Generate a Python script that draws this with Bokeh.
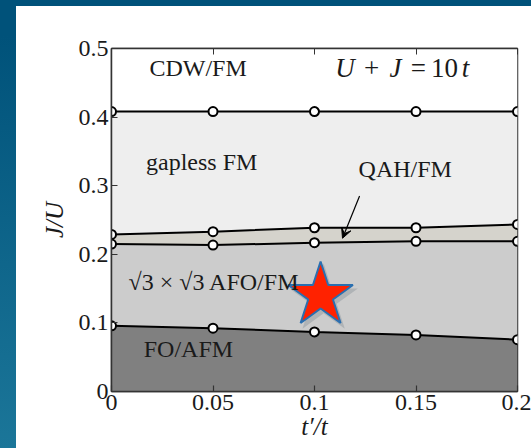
from bokeh.plotting import figure
from bokeh.models import (Range1d, FixedTicker, LinearAxis, Label, Arrow, VeeHead,
                          CustomJSTickFormatter, ColumnDataSource)
from bokeh.transform import dodge
from bokeh.embed import file_html
from bokeh.resources import INLINE

# ---- data ----
t_ratio = [0.0, 0.05, 0.1, 0.15, 0.2]
cdw_boundary = [0.408, 0.408, 0.408, 0.408, 0.408]
qah_upper = [0.229, 0.233, 0.2387, 0.2387, 0.2435]
qah_lower = [0.2149, 0.2134, 0.2169, 0.219, 0.219]
fo_boundary = [0.0958, 0.0923, 0.0869, 0.0825, 0.0755]
y_top = [0.5, 0.5, 0.5, 0.5, 0.5]
y_bottom = [0.0, 0.0, 0.0, 0.0, 0.0]
star_x = [0.103]
star_y = [0.14]
x_ticks = [0, 0.05, 0.1, 0.15, 0.2]
x_tick_labels = ["0", "0.05", "0.1", "0.15", "0.2"]
y_ticks = [0, 0.1, 0.2, 0.3, 0.4, 0.5]
y_tick_labels = ["0", "0.1", "0.2", "0.3", "0.4", "0.5"]
region_names = ["CDW/FM", "gapless FM", "QAH/FM", "√3 × √3 AFO/FM", "FO/AFM"]
equation_parts = ["U", "+", "J", "=", "10", "t"]

FONT = "Liberation Serif"
TXT = "#1a1a1a"

p = figure(width=531, height=448, output_backend="svg", toolbar_location=None,
           x_range=Range1d(0, 0.2), y_range=Range1d(0, 0.5),
           min_border_left=111, min_border_right=14, min_border_top=48, min_border_bottom=57)
p.border_fill_color = None
p.background_fill_color = "white"
p.outline_line_color = "#333333"
p.outline_line_width = 1.5
p.styles = {"background": "linear-gradient(#ffffff,#ffffff) 16px 6px / 515px 442px no-repeat, "
                          "linear-gradient(180deg, #00527a 0%, #00527a 8%, #1b7699 100%)"}
p.grid.visible = False

# regions
p.varea(x=t_ratio, y1=cdw_boundary, y2=y_top, fill_color="white")
p.varea(x=t_ratio, y1=qah_upper, y2=cdw_boundary, fill_color="#eeeeee")
p.varea(x=t_ratio, y1=qah_lower, y2=qah_upper, fill_color="#d5d3cc")
p.varea(x=t_ratio, y1=fo_boundary, y2=qah_lower, fill_color="#cccccc")
p.varea(x=t_ratio, y1=y_bottom, y2=fo_boundary, fill_color="#808080")

for b in [cdw_boundary, qah_upper, qah_lower, fo_boundary]:
    p.line(t_ratio, b, line_color="black", line_width=2)
    p.scatter(t_ratio, b, size=9, fill_color="white", line_color="black", line_width=2)

# star
star_src = ColumnDataSource(dict(x=star_x, y=star_y))
p.scatter(x=dodge("x", 0.0015), y=dodge("y", -0.006), source=star_src, marker="star", size=72,
          fill_color="#4a5a6a", fill_alpha=0.22, line_color=None)
p.scatter(x="x", y="y", source=star_src, marker="star", size=68, fill_color="#ff2200",
          line_color="#2a6fb0", line_width=2)

def fmt(labels, ticks):
    d = {str(float(t)): l for t, l in zip(ticks, labels)}
    return CustomJSTickFormatter(args=dict(d=d), code="""
        for (const key in d) { if (Math.abs(Number(key) - tick) < 1e-9) return d[key]; }
        return String(tick);""")

xa = p.xaxis[0]
ya = p.yaxis[0]
xa.ticker = FixedTicker(ticks=x_ticks)
ya.ticker = FixedTicker(ticks=y_ticks)
xa.formatter = fmt(x_tick_labels, x_ticks)
ya.formatter = fmt(y_tick_labels, y_ticks)
for ax in (xa, ya):
    ax.major_tick_in = 6
    ax.major_tick_out = 0
    ax.minor_tick_in = 0
    ax.minor_tick_out = 0
    ax.axis_line_color = "#333333"
    ax.axis_line_width = 1.5
    ax.major_tick_line_color = "#333333"
    ax.major_tick_line_width = 1.2
    ax.major_label_text_font = FONT
    ax.major_label_text_font_size = "24px"
    ax.major_label_text_color = TXT
    ax.axis_label_text_font = FONT
    ax.axis_label_text_font_size = "25px"
    ax.axis_label_text_font_style = "italic"
    ax.axis_label_text_color = TXT
xa.major_label_standoff = 3
ya.major_label_standoff = 3
xa.axis_label = "t′/t"
ya.axis_label = "J/U"
xa.axis_label_standoff = 0
ya.axis_label_standoff = 8

top = LinearAxis(ticker=FixedTicker(ticks=x_ticks), major_label_text_color=None,
                 major_label_text_alpha=0,
                 major_tick_in=6, major_tick_out=0, minor_tick_in=0, minor_tick_out=0,
                 axis_line_color="#333333", axis_line_width=1.5, major_tick_line_color="#333333")
p.add_layout(top, "above")

# region labels
pos = [(0.0187, 0.4715), (0.017, 0.334), (0.1217, 0.3247), (0.0084, 0.1596), (0.0159, 0.0623)]
for name, (lx, ly) in zip(region_names, pos):
    p.add_layout(Label(x=lx, y=ly, text=name, text_font=FONT, text_font_size="24px",
                       text_color=TXT, text_baseline="middle", text_align="left"))

# equation "U + J = 10t", math italic letters and upright symbols
eq_x = [0.1150, 0.1281, 0.1399, 0.1512, 0.1640, 0.1744]
eq_style = ["italic", "normal", "italic", "normal", "normal", "italic"]
for part, ex, st in zip(equation_parts, eq_x, eq_style):
    p.add_layout(Label(x=ex, y=0.4715, text=part, text_font=FONT, text_font_size="27px",
                       text_font_style=st, text_color=TXT, text_baseline="middle", text_align="center"))

p.add_layout(Arrow(end=VeeHead(size=10, fill_color="black", line_color="black"),
                   x_start=0.1222, y_start=0.285, x_end=0.1138, y_end=0.2234,
                   line_color="black", line_width=1.2))

open("out.html", "w").write(file_html(p, INLINE))
